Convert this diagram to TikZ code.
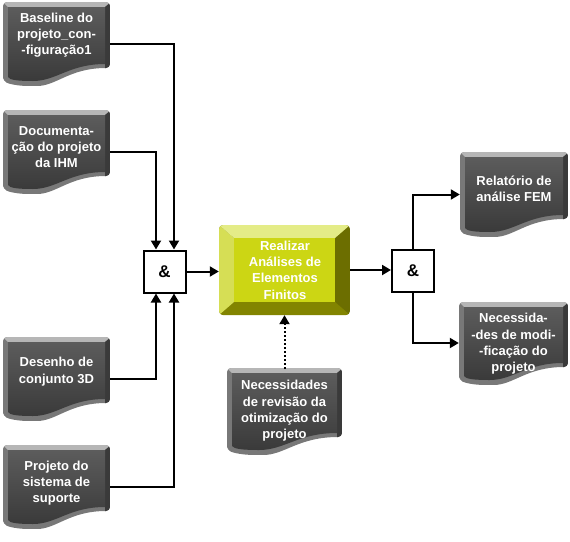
\documentclass[tikz,border=0pt]{standalone}
\usepackage{fontspec}
\setmainfont{Liberation Sans}
\usetikzlibrary{arrows.meta,calc}
\definecolor{dtop}{RGB}{182,182,182}
\definecolor{dside}{RGB}{120,120,120}
\definecolor{dright}{RGB}{58,58,58}
\definecolor{dfaceA}{RGB}{92,92,92}
\definecolor{dfaceB}{RGB}{58,58,58}
\definecolor{mface}{RGB}{204,214,20}
\definecolor{mtop}{RGB}{228,236,135}
\definecolor{mleft}{RGB}{214,222,85}
\definecolor{mright}{RGB}{108,110,0}
\definecolor{mbottom}{RGB}{130,132,0}
\newcommand\docshape[4]{%
  \pgfmathsetmacro\dcW{#3-#1}%
  \pgfmathsetmacro\dcA{#1+0.62*\dcW}%
  \pgfmathsetmacro\dcB{#1+0.5*\dcW}%
  \pgfmathsetmacro\dcC{#1+0.28*\dcW}%
  \pgfmathsetmacro\dcD{#1+0.14*\dcW}%
  \pgfmathsetmacro\dcE{#1+0.06*\dcW}%
  \begin{scope}
    \clip[rounded corners=4] (#1,#4-5) -- (#1,#2) -- (#3,#2) -- (#3,#4-18)
      .. controls (\dcA,#4-18) and (\dcB,#4) .. (\dcC,#4)
      .. controls (\dcD,#4) and (\dcE,#4-2) .. (#1,#4-5) -- cycle;
    \fill[dside] (#1,#2) rectangle (#3,#4);
    \fill[dtop] (#1,#2) -- (#3,#2) -- (#3-5,#2+5) -- (#1+5,#2+5) -- cycle;
    \fill[dright] (#3,#2+1) -- (#3,#4) -- (#3-5,#4) -- (#3-5,#2+5) -- cycle;
    \shade[top color=dfaceA, bottom color=dfaceB] (#1+5,#2+5) -- (#3-5,#2+5) -- (#3-5,#4-22)
      .. controls (\dcA,#4-22) and (\dcB,#4-5) .. (\dcC,#4-5)
      .. controls (\dcD,#4-5) and (\dcE,#4-6) .. (#1+5,#4-9) -- cycle;
  \end{scope}}
\tikzset{
  x=1pt, y=-1pt,
  docbox/.style={minimum width=#1, minimum height=85, inner sep=0},
  doctext/.style={text=white, font=\fontsize{13}{16.3}\selectfont\bfseries, align=center, inner sep=0},
  andbox/.style={draw=black, line width=2, fill=white, minimum width=42, minimum height=42, inner sep=0, font=\fontsize{17}{20}\selectfont\bfseries},
  conn/.style={line width=2, -{Triangle[length=9,width=10]}},
}
\begin{document}
\begin{tikzpicture}
\useasboundingbox (0,0) rectangle (570,541);
% documents
\docshape{3}{2}{110}{86}
\node[docbox=107] (d1) at (56.5,44) {};
\node[doctext] (t1) at (56.5,35) {Baseline do\\projeto\_con-\\-figuração1};
\docshape{3}{110}{110}{194}
\node[docbox=107] (d2) at (56.5,152) {};
\node[doctext] (t2) at (56.5,147) {Documenta-\\ção do projeto\\da IHM};
\docshape{3}{337}{110}{421}
\node[docbox=107] (d3) at (56.5,379) {};
\node[doctext] (t3) at (56.5,371.5) {Desenho de\\conjunto 3D};
\docshape{3}{445}{110}{529}
\node[docbox=107] (d4) at (56.5,487) {};
\node[doctext] (t4) at (56.5,483) {Projeto do\\sistema de\\suporte};
\docshape{460}{152}{568}{237}
\node[docbox=108] (d5) at (514,194.5) {};
\node[doctext] (t5) at (514,189) {Relatório de\\análise FEM};
\docshape{459}{302}{568}{385}
\node[docbox=109] (d6) at (513.5,343) {};
\node[doctext] (t6) at (513.5,344) {Necessida-\\-des de modi-\\-ficação do\\projeto};
\docshape{227}{368}{342}{455}
\node[docbox=115] (d7) at (284.5,411.5) {};
\node[doctext] (t7) at (284.5,411) {Necessidades\\de revisão da\\otimização do\\projeto};
% main activity box
\begin{scope}
  \clip[rounded corners=4] (219,225) rectangle (350,315);
  \fill[mright] (219,225) rectangle (350,315);
  \fill[mbottom] (219,315) -- (350,315) -- (335,302) -- (234,302) -- cycle;
  \fill[mleft] (219,225) -- (234,238) -- (234,302) -- (219,315) -- cycle;
  \fill[mtop] (219,225) -- (350,225) -- (335,238) -- (234,238) -- cycle;
  \fill[mface] (234,238) rectangle (335,302);
\end{scope}
\node[minimum width=131, minimum height=90, inner sep=0] (main) at (284.5,270) {};
\node[doctext] (mt) at (285,270) {Realizar\\Análises de\\Elementos\\Finitos};
% junctions
\node[andbox] (and1) at (164.5,271.5) {\&};
\node[andbox] (and2) at (413,270.5) {\&};
% connectors
\draw[conn] (d1.east) -| ([xshift=9.5]and1.north);
\draw[conn] (d2.east) -| ([xshift=-8.5]and1.north);
\draw[conn] (d3.east) -| ([xshift=-8.5]and1.south);
\draw[conn] (d4.east) -| ([xshift=9.5]and1.south);
\draw[conn] (and1.east) -- (main.west |- and1.east);
\draw[conn] (main.east) -- (and2.west |- main.east);
\draw[conn] (and2.north) |- (d5.west);
\draw[conn] (and2.south) |- (d6.west);
\draw[conn, dash pattern=on 2 off 2] (d7.north) -- (main.south);
\end{tikzpicture}
\end{document}
